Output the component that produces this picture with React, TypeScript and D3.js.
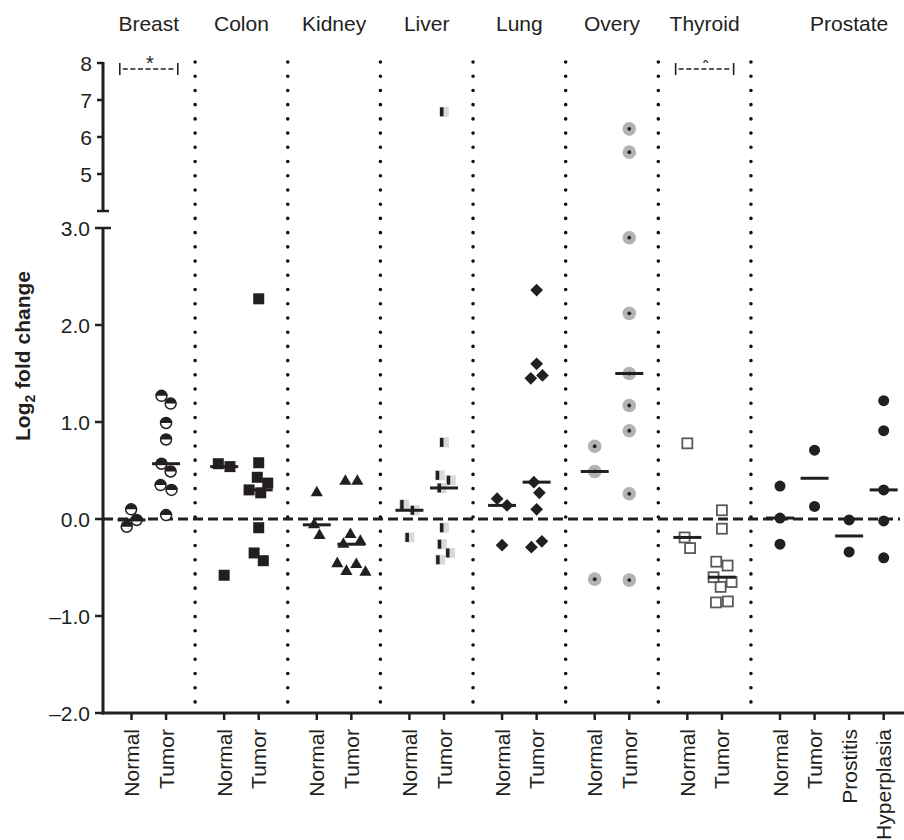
import { useMemo } from "react";
import * as d3 from "d3";

// tissue groups, left to right
const groups = ["Breast", "Colon", "Kidney", "Liver", "Lung", "Overy", "Thyroid", "Prostate"];
const conditions = [
  ["Normal", "Tumor"],
  ["Normal", "Tumor"],
  ["Normal", "Tumor"],
  ["Normal", "Tumor"],
  ["Normal", "Tumor"],
  ["Normal", "Tumor"],
  ["Normal", "Tumor"],
  ["Normal", "Tumor", "Prostitis", "Hyperplasia"],
];
const markers = ["halfCircle", "square", "triangle", "halfSquare", "diamond", "dotCircle", "openSquare", "circle"];

// log2 fold change per sample
const breastNormal = [0.1, -0.01, -0.08];
const breastTumor = [1.27, 1.19, 0.99, 0.82, 0.57, 0.49, 0.35, 0.3, 0.04];
const colonNormal = [0.57, 0.54, -0.58];
const colonTumor = [2.27, 0.58, 0.43, 0.37, 0.3, 0.27, -0.09, -0.35, -0.43];
const kidneyNormal = [0.27, -0.06, -0.17];
const kidneyTumor = [0.39, 0.39, -0.16, -0.23, -0.26, -0.46, -0.47, -0.54, -0.55];
const liverNormal = [0.15, 0.09, -0.19];
const liverTumor = [6.68, 0.79, 0.45, 0.4, 0.32, -0.09, -0.26, -0.35, -0.42];
const lungNormal = [0.21, 0.14, -0.27];
const lungTumor = [2.36, 1.6, 1.48, 1.45, 0.38, 0.27, 0.1, -0.23, -0.29];
const overyNormal = [0.75, 0.49, -0.62];
const overyTumor = [6.22, 5.59, 2.9, 2.12, 1.5, 1.17, 0.91, 0.26, -0.63];
const thyroidNormal = [0.78, -0.19, -0.3];
const thyroidTumor = [0.09, -0.1, -0.44, -0.48, -0.6, -0.65, -0.7, -0.85, -0.86];
const prostateNormal = [0.34, 0.01, -0.26];
const prostateTumor = [0.71, 0.13];
const prostateProstitis = [-0.01, -0.34];
const prostateHyperplasia = [1.22, 0.91, 0.3, -0.02, -0.4];

const values = [
  [breastNormal, breastTumor],
  [colonNormal, colonTumor],
  [kidneyNormal, kidneyTumor],
  [liverNormal, liverTumor],
  [lungNormal, lungTumor],
  [overyNormal, overyTumor],
  [thyroidNormal, thyroidTumor],
  [prostateNormal, prostateTumor, prostateProstitis, prostateHyperplasia],
];

const lowTicks = [3, 2, 1, 0, -1, -2];
const highTicks = [8, 7, 6, 5];
const significant = ["Breast", "Thyroid"];

const W = 904;
const H = 840;
const ink = "#231f20";
const font = "'Liberation Sans', Arial, sans-serif";
const gapSlots = 2.68;

const yLow = d3.scaleLinear().domain([-2, 3]).range([713, 228]);
const yHigh = d3.scaleLinear().domain([4, 8]).range([211, 63]);
const yOf = (v: number) => (v > 3.5 ? yHigh(v) : yLow(v));
const x = d3.scaleLinear().domain([0, 7 * gapSlots + 3]).range([131.5, 883.7]);
const slot = (g: number, i: number) => g * gapSlots + i;
const axisX = 103;

function Marker({ kind, cx, cy }: { kind: string; cx: number; cy: number }) {
  const t = `translate(${cx},${cy})`;
  const r = 5.5;
  switch (kind) {
    case "halfCircle":
      return (
        <g transform={t}>
          <circle r={r} fill="#fff" stroke={ink} strokeWidth={1.5} />
          <path d={`M${-r},0A${r},${r} 0 0 1 ${r},0Z`} fill={ink} />
        </g>
      );
    case "square":
      return <rect x={cx - 5.5} y={cy - 5.5} width={11} height={11} fill={ink} />;
    case "triangle":
      return <path transform={t} d={d3.symbol(d3.symbolTriangle, 64)()!} fill={ink} />;
    case "halfSquare":
      return (
        <g transform={t}>
          <rect x={-5} y={-5} width={10} height={10} fill="#d9d9d9" />
          <rect x={-4} y={-4.5} width={3.5} height={9} fill={ink} />
        </g>
      );
    case "diamond":
      return <rect transform={`${t} rotate(45)`} x={-4.5} y={-4.5} width={9} height={9} fill={ink} />;
    case "dotCircle":
      return (
        <g transform={t}>
          <circle r={6.8} fill="#b3b3b3" />
          <circle r={1.9} fill={ink} />
        </g>
      );
    case "openSquare":
      return <rect x={cx - 5} y={cy - 5} width={10} height={10} fill="none" stroke="#5a5a5a" strokeWidth={1.8} />;
    default:
      return <circle cx={cx} cy={cy} r={r} fill={ink} />;
  }
}

export default function App() {
  const points = useMemo(() => {
    const out: { kind: string; x: number; y: number; key: string }[] = [];
    values.forEach((gv, g) =>
      gv.forEach((vals, i) => {
        const cx = x(slot(g, i));
        const nodes: any[] = vals.map((v) => ({ x: cx, fy: yOf(v), y: yOf(v) }));
        const rad = markers[g] === "dotCircle" ? 7 : 6;
        const sim = d3
          .forceSimulation(nodes)
          .force("x", d3.forceX(cx).strength(0.15))
          .force("c", d3.forceCollide(rad))
          .stop();
        for (let k = 0; k < 300; k++) sim.tick();
        nodes.forEach((n, j) => out.push({ kind: markers[g], x: n.x, y: n.fy, key: `${g}-${i}-${j}` }));
      })
    );
    return out;
  }, []);

  const cats = conditions.flatMap((cs, g) => cs.map((c, i) => ({ label: c, pos: x(slot(g, i)), key: `${g}-${i}` })));
  const medians = values.flatMap((gv, g) =>
    gv.map((vals, i) => ({ m: d3.median(vals)!, cx: x(slot(g, i)), key: `${g}-${i}` }))
  );
  const separators = d3.range(groups.length - 1).map((g) =>
    x((slot(g, conditions[g].length - 1) + slot(g + 1, 0)) / 2)
  );
  const groupCenter = (g: number) => {
    const n = conditions[g].length;
    // Prostate's title sits over its right three columns
    return n > 2 ? x((slot(g, 1) + slot(g, n - 1)) / 2) : x((slot(g, 0) + slot(g, n - 1)) / 2);
  };

  return (
    <svg width={W} height={H} style={{ position: "absolute", left: 0, top: 0, background: "#fff" }} fontFamily={font}>
      <defs>
        <clipPath id="starClip">
          <rect x={0} y={60} width={W} height={20} />
        </clipPath>
      </defs>

      {/* group titles */}
      {groups.map((gname, g) => (
        <text key={gname} x={groupCenter(g)} y={31} textAnchor="middle" fontSize={21} fill={ink}>
          {gname}
        </text>
      ))}

      {/* dotted separators */}
      {separators.map((sx, k) => (
        <line key={k} x1={sx} x2={sx} y1={62} y2={702} stroke="#111" strokeWidth={3.6} strokeLinecap="round" strokeDasharray="0 14.22" />
      ))}

      {/* zero line */}
      <line x1={axisX} x2={900} y1={yLow(0)} y2={yLow(0)} stroke={ink} strokeWidth={3} strokeDasharray="10 5" />

      {/* significance brackets */}
      {significant.map((gname) => {
        const g = groups.indexOf(gname);
        const c = x((slot(g, 0) + slot(g, 1)) / 2);
        return (
          <g key={gname} stroke={ink} strokeWidth={1.6}>
            <line x1={c - 29} x2={c - 29} y1={63} y2={75} />
            <line x1={c + 29} x2={c + 29} y1={63} y2={75} />
            <line x1={c - 26} x2={c + 26} y1={69} y2={69} strokeDasharray="5 2.6" />
            <text
              x={c + 1}
              y={69.5}
              textAnchor="middle"
              fontSize={20}
              fill={ink}
              stroke="none"
              clipPath={gname === "Thyroid" ? "url(#starClip)" : undefined}
            >
              *
            </text>
          </g>
        );
      })}

      {/* points */}
      {points.map((p) => (
        <Marker key={p.key} kind={p.kind} cx={p.x} cy={p.y} />
      ))}

      {/* medians */}
      {medians.map((m) => (
        <line key={m.key} x1={m.cx - 14} x2={m.cx + 14} y1={yLow(m.m)} y2={yLow(m.m)} stroke={ink} strokeWidth={3} />
      ))}

      {/* y axis, broken */}
      <g stroke={ink}>
        <line x1={axisX} x2={axisX} y1={yHigh(8) - 1} y2={yHigh(4)} strokeWidth={3} />
        <line x1={axisX - 6} x2={axisX + 6} y1={yHigh(4)} y2={yHigh(4)} strokeWidth={2.5} />
        {highTicks.map((t) => (
          <line key={t} x1={axisX - 6} x2={axisX} y1={yHigh(t)} y2={yHigh(t)} strokeWidth={2.5} />
        ))}
        <line x1={axisX} x2={axisX} y1={yLow(3)} y2={yLow(-2) + 1.5} strokeWidth={3} />
        <line x1={axisX} x2={axisX + 8} y1={yLow(3)} y2={yLow(3)} strokeWidth={2.5} />
        {lowTicks.map((t) => (
          <line key={t} x1={axisX - 8} x2={axisX} y1={yLow(t)} y2={yLow(t)} strokeWidth={2.5} />
        ))}
      </g>
      {highTicks.map((t) => (
        <text key={t} x={92} y={yHigh(t)} dy="0.36em" textAnchor="end" fontSize={21} fill={ink}>
          {t}
        </text>
      ))}
      {lowTicks.map((t) => (
        <text key={t} x={90} y={yLow(t)} dy="0.36em" textAnchor="end" fontSize={21} fill={ink}>
          {(t < 0 ? "\u2013" : "") + d3.format(".1f")(Math.abs(t))}
        </text>
      ))}
      <text transform="translate(30,356) rotate(-90)" textAnchor="middle" fontSize={21} fontWeight="bold" fill={ink}>
        Log<tspan dy={5} fontSize={14}>2</tspan>
        <tspan dy={-5}> fold change</tspan>
      </text>

      {/* x axis */}
      <line x1={axisX - 1.5} x2={W} y1={yLow(-2)} y2={yLow(-2)} stroke={ink} strokeWidth={3} />
      {cats.map((c) => (
        <g key={c.key}>
          <line x1={c.pos} x2={c.pos} y1={yLow(-2)} y2={yLow(-2) + 7} stroke={ink} strokeWidth={2.5} />
          <text
            transform={`translate(${c.pos},729) rotate(-90)`}
            dy="0.36em"
            textAnchor="end"
            fontSize={21}
            fill={ink}
          >
            {c.label}
          </text>
        </g>
      ))}
    </svg>
  );
}
